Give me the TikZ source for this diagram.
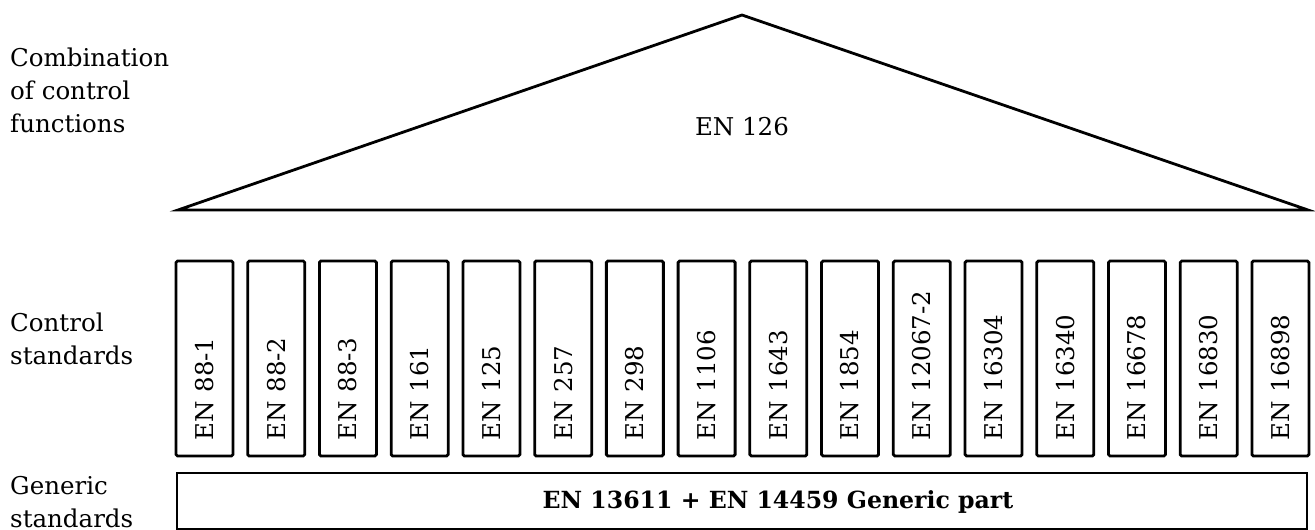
\documentclass[tikz,border=0pt]{standalone}
\usepackage{fontspec}
\setmainfont{DejaVu Serif}
\begin{document}
\begin{tikzpicture}[x=1pt,y=-1pt,
  lbl/.style={anchor=west,align=left,inner sep=0pt,font=\fontsize{24.5}{33}\selectfont},
  cbox/.style={draw,line width=2.8pt,rounded corners=1.5pt,rotate=90,minimum width=195pt,minimum height=57pt,
     inner xsep=16pt,inner ysep=0pt,text width=163pt,align=left,font=\fontsize{24.5}{30}\selectfont},
  gbox/.style={draw,line width=2.8pt,minimum width=1130pt,minimum height=56pt,inner sep=0pt},
  gtext/.style={inner sep=0pt,font=\bfseries\fontsize{23.6}{30}\selectfont},
  tri/.style={draw,line width=2.8pt,line join=miter}]
\useasboundingbox (0,0) rectangle (1315,530);
\coordinate (tl) at (178,210);
\coordinate (ta) at (742,15);
\coordinate (tr) at (1308,210);
\draw[tri] (tl) -- (ta) -- (tr) -- cycle;
\node[font=\fontsize{24.5}{30}\selectfont] (en126) at (742,127) {EN 126};
\node[lbl] (l1) at (10,90) {Combination\\of control\\functions};
\node[lbl] (l2) at (10,339) {Control\\standards};
\node[lbl,anchor=north west] (l3) at (10,476) {Generic\\standards};
\foreach \t [count=\i from 0] in {EN 88-1,EN 88-2,EN 88-3,EN 161,EN 125,EN 257,EN 298,EN 1106,EN 1643,EN 1854,EN 12067-2,EN 16304,EN 16340,EN 16678,EN 16830,EN 16898}{
  \node[cbox] (b\i) at ({204.5+71.73*\i},358.5) {\t};
}
\node[gbox] (gen) at (742,501) {};
\node[gtext,anchor=base] (gent) at (778,508) {EN 13611 + EN 14459 Generic part};
\end{tikzpicture}
\end{document}
